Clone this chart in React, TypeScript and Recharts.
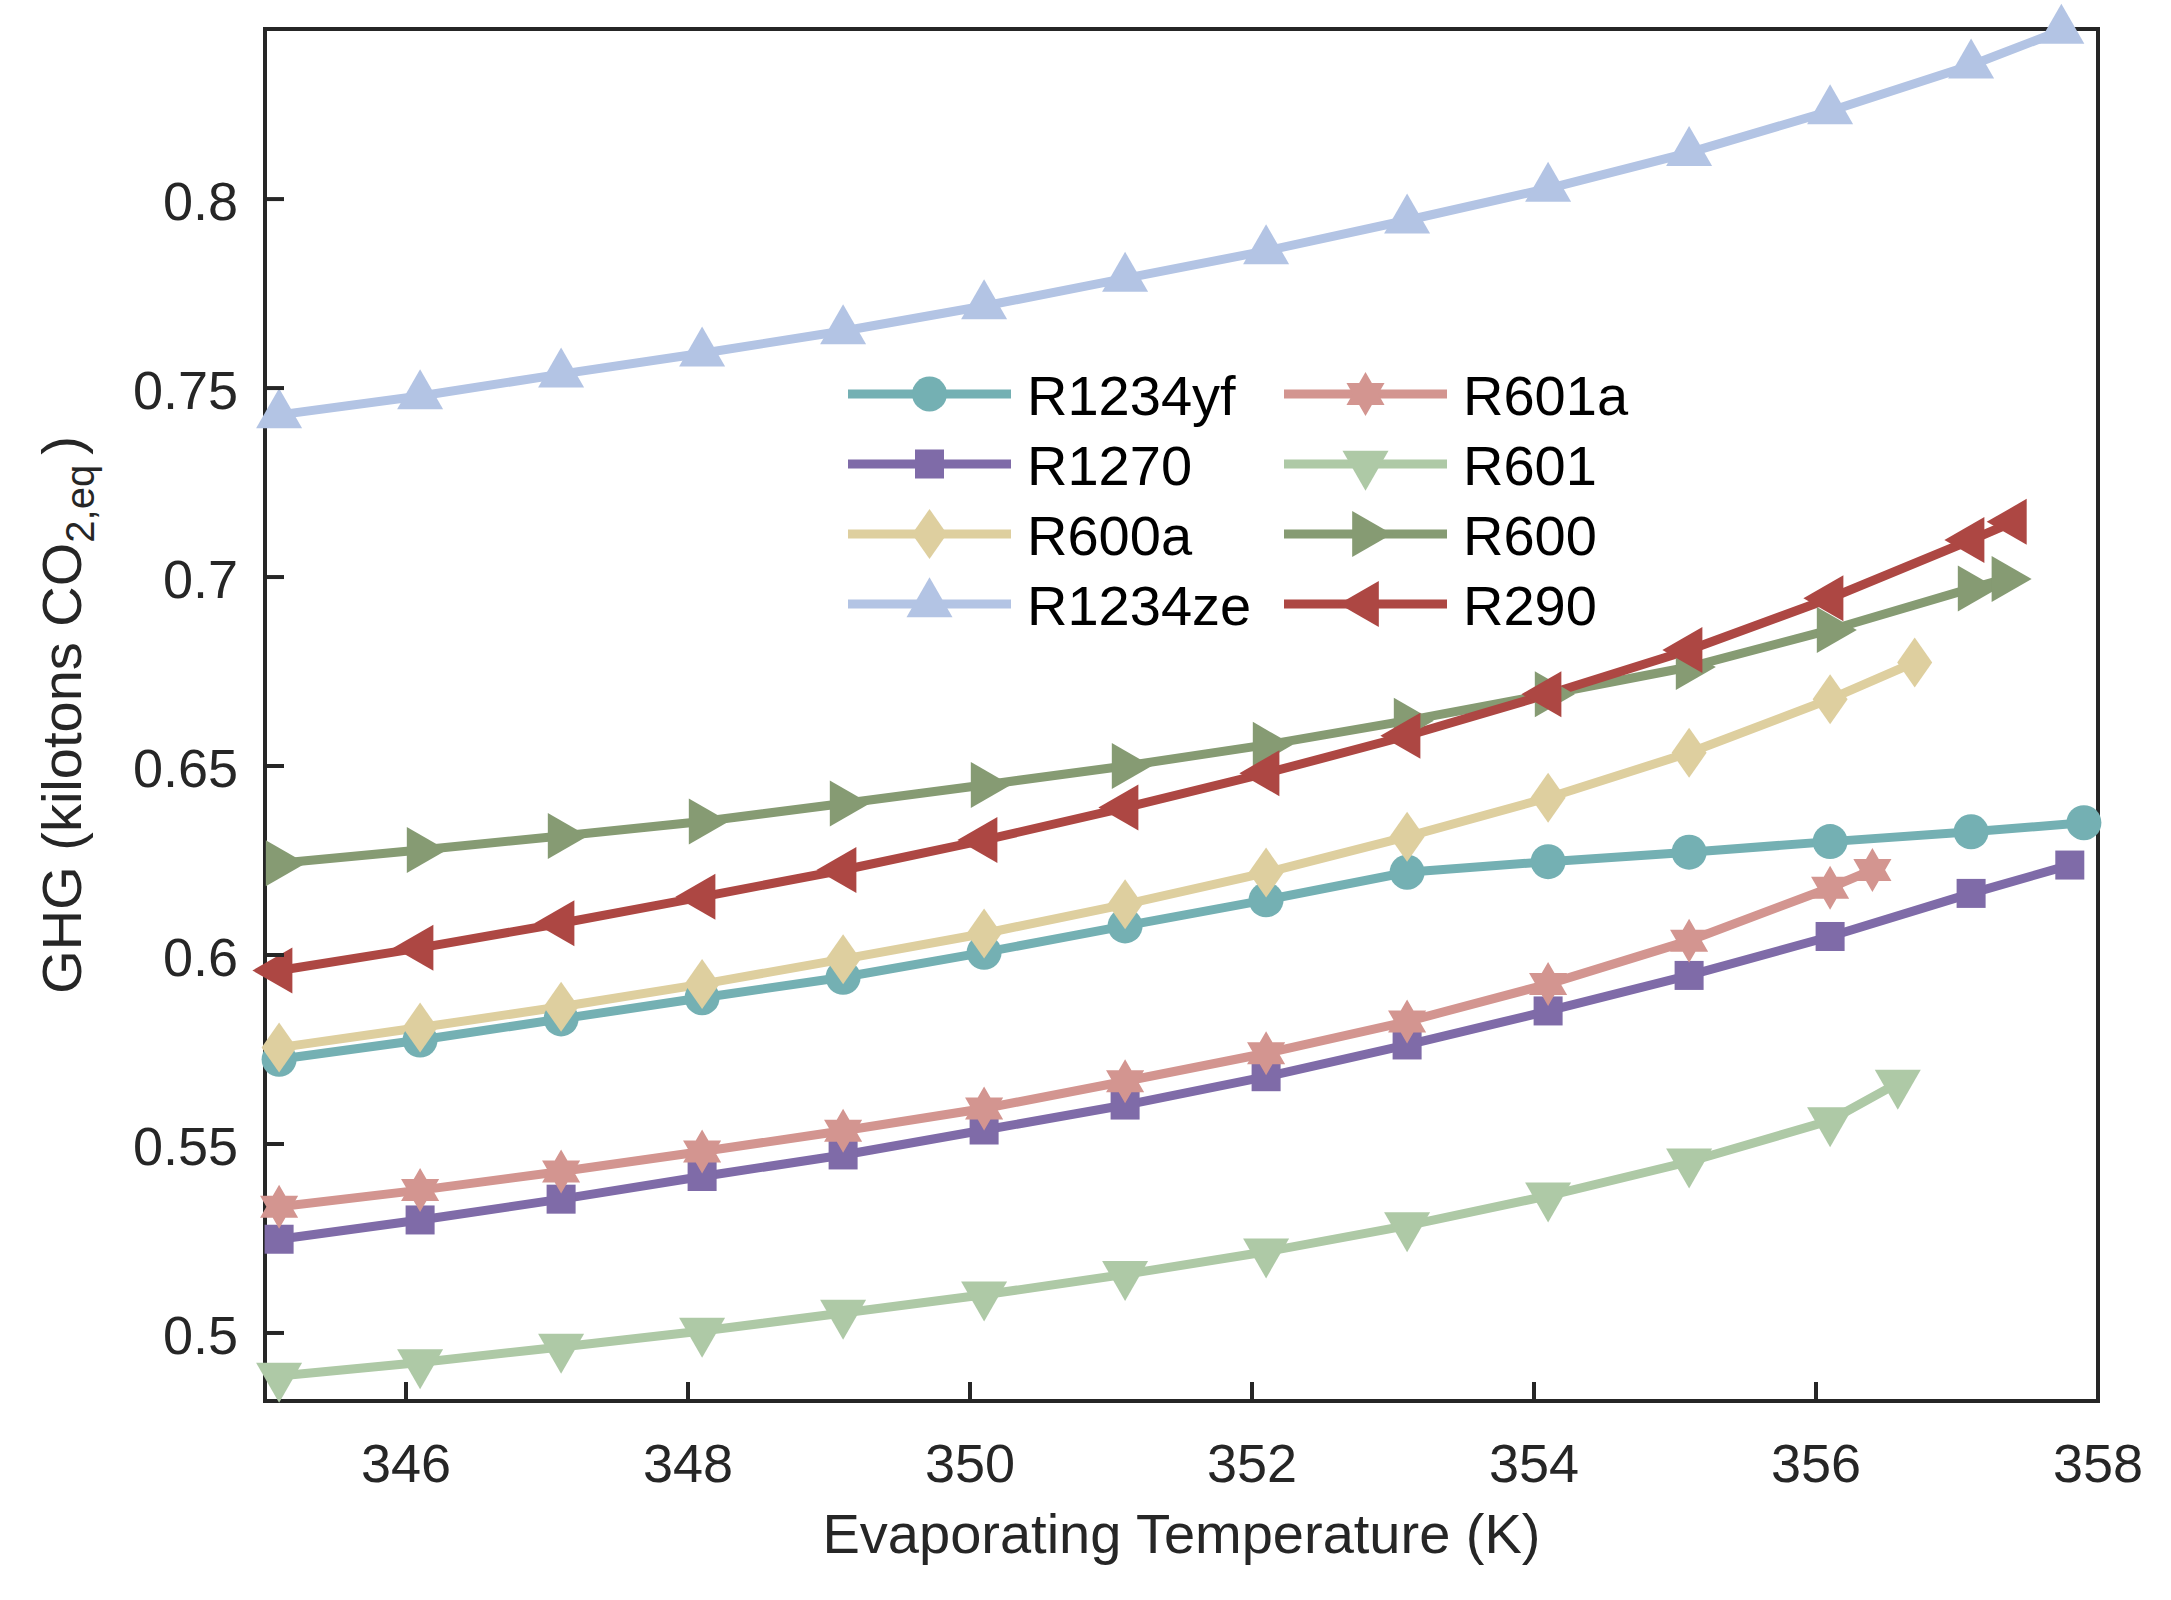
import { LineChart, Line, XAxis, YAxis, Legend } from 'recharts';

const FONT = '"Liberation Sans", Arial, Helvetica, sans-serif';
const AXIS = '#262626';

// evaporating temperatures (K)
const T13 = [345.1, 346.1, 347.1, 348.1, 349.1, 350.1, 351.1, 352.1, 353.1, 354.1, 355.1, 356.1, 357.1];
const T12 = [345.1, 346.1, 347.1, 348.1, 349.1, 350.1, 351.1, 352.1, 353.1, 354.1, 355.1, 356.1];

const r1234yfT = [...T13, 357.9];
const r1234yfV = [0.5724, 0.5775, 0.5831, 0.5887, 0.5941, 0.6007, 0.6077, 0.6146, 0.6219, 0.6247, 0.6272, 0.63, 0.6326, 0.635];

const r1270T = [...T13, 357.8];
const r1270V = [0.5248, 0.5299, 0.5354, 0.5414, 0.5471, 0.5537, 0.5603, 0.5678, 0.5762, 0.5852, 0.5946, 0.6049, 0.6163, 0.6238];

const r600aT = [...T12, 356.7];
const r600aV = [0.5755, 0.5808, 0.5863, 0.5923, 0.5989, 0.6057, 0.6134, 0.6218, 0.6313, 0.6416, 0.6535, 0.6677, 0.6774];

const r1234zeT = [...T13, 357.74];
const r1234zeV = [0.7429, 0.7479, 0.7537, 0.7592, 0.7651, 0.7717, 0.779, 0.7863, 0.7944, 0.8028, 0.8123, 0.8233, 0.8354, 0.8446];

const r601aT = [...T12, 356.4];
const r601aV = [0.5334, 0.5378, 0.5427, 0.548, 0.5535, 0.5594, 0.5666, 0.574, 0.5824, 0.5923, 0.6038, 0.6178, 0.6225];

const r601T = [...T12, 356.58];
const r601V = [0.4886, 0.4922, 0.4963, 0.5005, 0.5053, 0.5101, 0.5155, 0.5215, 0.5284, 0.5363, 0.5453, 0.5562, 0.5661];

const r600T = [...T13, 357.34];
const r600V = [0.6243, 0.6278, 0.6315, 0.6353, 0.6401, 0.645, 0.65, 0.6556, 0.662, 0.669, 0.6762, 0.686, 0.697, 0.6995];

const r290T = [...T13, 357.4];
const r290V = [0.5959, 0.6019, 0.6084, 0.6154, 0.6225, 0.6304, 0.639, 0.6481, 0.658, 0.669, 0.6807, 0.6944, 0.7098, 0.7146];

const X_TICKS = [346, 348, 350, 352, 354, 356, 358];
const Y_TICKS = [0.5, 0.55, 0.6, 0.65, 0.7, 0.75, 0.8];

const series = [
  { name: 'R1234yf', color: '#74b0b3', shape: 'circle', t: r1234yfT, v: r1234yfV },
  { name: 'R1270', color: '#7f6ba8', shape: 'square', t: r1270T, v: r1270V },
  { name: 'R600a', color: '#decf9f', shape: 'diamond', t: r600aT, v: r600aV },
  { name: 'R1234ze', color: '#b3c4e4', shape: 'up', t: r1234zeT, v: r1234zeV },
  { name: 'R601a', color: '#d39590', shape: 'hexagram', t: r601aT, v: r601aV },
  { name: 'R601', color: '#aec9a6', shape: 'down', t: r601T, v: r601V },
  { name: 'R600', color: '#869b73', shape: 'right', t: r600T, v: r600V },
  { name: 'R290', color: '#ad4743', shape: 'left', t: r290T, v: r290V },
];

const lines = series.map((s) => ({ ...s, points: s.t.map((t, i) => ({ t, v: s.v[i] })) }));

const LINE_W = 9;

function hexagram(cx: number, cy: number, R: number) {
  const r = R / Math.sqrt(3);
  const pts: string[] = [];
  for (let i = 0; i < 12; i++) {
    const a = -Math.PI / 2 + (i * Math.PI) / 6;
    const rad = i % 2 === 0 ? R : r;
    pts.push(`${cx + rad * Math.cos(a)},${cy + rad * Math.sin(a)}`);
  }
  return pts.join(' ');
}

function Marker({ shape, cx, cy, color }: { shape: string; cx: number; cy: number; color: string }) {
  switch (shape) {
    case 'circle':
      return <circle cx={cx} cy={cy} r={17.5} fill={color} />;
    case 'square':
      return <rect x={cx - 14.5} y={cy - 14.5} width={29} height={29} fill={color} />;
    case 'diamond':
      return <polygon points={`${cx},${cy - 25} ${cx + 17.5},${cy} ${cx},${cy + 25} ${cx - 17.5},${cy}`} fill={color} />;
    case 'up':
      return <polygon points={`${cx},${cy - 26.7} ${cx + 23},${cy + 13.3} ${cx - 23},${cy + 13.3}`} fill={color} />;
    case 'down':
      return <polygon points={`${cx - 23},${cy - 13.3} ${cx + 23},${cy - 13.3} ${cx},${cy + 26.7}`} fill={color} />;
    case 'right':
      return <polygon points={`${cx - 13.3},${cy - 23} ${cx + 26.7},${cy} ${cx - 13.3},${cy + 23}`} fill={color} />;
    case 'left':
      return <polygon points={`${cx + 13.3},${cy - 23} ${cx - 26.7},${cy} ${cx + 13.3},${cy + 23}`} fill={color} />;
    case 'hexagram':
      return <polygon points={hexagram(cx, cy, 22)} fill={color} />;
    default:
      return null;
  }
}

const fmt = (v: number) => String(Number(v.toFixed(2)));

const BottomTick = ({ x, y, payload }: any) => (
  <g>
    <line x1={x} x2={x} y1={y} y2={y - 19} stroke={AXIS} strokeWidth={4} />
    <text x={x} y={y + 81} textAnchor="middle" fontSize={54} fontFamily={FONT} fill={AXIS}>
      {payload.value}
    </text>
  </g>
);

const TopTick = ({ x, y }: any) => <line x1={x} x2={x} y1={y} y2={y + 19} stroke={AXIS} strokeWidth={4} />;

const LeftTick = ({ x, y, payload }: any) => (
  <g>
    <line x1={x} x2={x + 19} y1={y} y2={y} stroke={AXIS} strokeWidth={4} />
    <text x={x - 27} y={y + 21} textAnchor="end" fontSize={54} fontFamily={FONT} fill={AXIS}>
      {fmt(payload.value)}
    </text>
  </g>
);

const RightTick = ({ x, y }: any) => <line x1={x} x2={x - 19} y1={y} y2={y} stroke={AXIS} strokeWidth={4} />;

const XTitle = ({ viewBox }: any) => (
  <text
    x={viewBox.x + viewBox.width / 2}
    y={viewBox.y + 152}
    textAnchor="middle"
    fontSize={56}
    fontFamily={FONT}
    fill={AXIS}
  >
    Evaporating Temperature (K)
  </text>
);

const YTitle = ({ viewBox }: any) => {
  const x = viewBox.x + viewBox.width - 184;
  const y = viewBox.y + viewBox.height / 2;
  return (
    <text
      x={x}
      y={y}
      transform={`rotate(-90 ${x} ${y})`}
      textAnchor="middle"
      fontSize={56}
      fontFamily={FONT}
      fill={AXIS}
    >
      GHG (kilotons CO
      <tspan fontSize={40} dy={13}>2,eq</tspan>
      <tspan dy={-13} dx={10}>)</tspan>
    </text>
  );
};

// legend: two columns, four rows
const renderLegend = () => {
  const cols = [28, 464];
  const rows = [44, 114, 184, 254];
  return (
    <svg width={820} height={300} style={{ overflow: 'visible' }}>
      {series.map((s, i) => {
        const lx = cols[Math.floor(i / 4)];
        const ly = rows[i % 4];
        return (
          <g key={s.name}>
            <line x1={lx} x2={lx + 163} y1={ly} y2={ly} stroke={s.color} strokeWidth={LINE_W} />
            <Marker shape={s.shape} cx={lx + 81.5} cy={ly} color={s.color} />
            <text x={lx + 179} y={ly + 21} fontSize={56} fontFamily={FONT} fill="#000">
              {s.name}
            </text>
          </g>
        );
      })}
    </svg>
  );
};

const axisLine = { stroke: AXIS, strokeWidth: 4, strokeLinecap: 'square' as const };

export default function App() {
  return (
    <div style={{ position: 'absolute', left: 0, top: 0, width: 2171, height: 1600, background: '#fff' }}>
      <LineChart width={2171} height={1600} margin={{ top: 28, right: 72, bottom: 99, left: 105 }}>
        <XAxis
          xAxisId="b"
          type="number"
          dataKey="t"
          orientation="bottom"
          domain={[345, 358]}
          ticks={X_TICKS}
          interval={0}
          height={100}
          tickSize={0}
          tickMargin={0}
          tickLine={false}
          axisLine={axisLine}
          tick={BottomTick}
          label={{ content: XTitle }}
        />
        <XAxis
          xAxisId="t"
          type="number"
          dataKey="t"
          orientation="top"
          domain={[345, 358]}
          ticks={X_TICKS}
          interval={0}
          height={1}
          tickSize={0}
          tickMargin={0}
          tickLine={false}
          axisLine={axisLine}
          tick={TopTick}
        />
        <YAxis
          yAxisId="l"
          type="number"
          domain={[0.482, 0.845]}
          ticks={Y_TICKS}
          interval={0}
          width={160}
          tickSize={0}
          tickMargin={0}
          tickLine={false}
          axisLine={axisLine}
          tick={LeftTick}
          label={{ content: YTitle }}
        />
        <YAxis
          yAxisId="r"
          orientation="right"
          type="number"
          domain={[0.482, 0.845]}
          ticks={Y_TICKS}
          interval={0}
          width={1}
          tickSize={0}
          tickMargin={0}
          tickLine={false}
          axisLine={axisLine}
          tick={RightTick}
        />
        <Legend
          layout="horizontal"
          verticalAlign="middle"
          align="center"
          content={renderLegend}
          wrapperStyle={{ left: 820, top: 350, width: 820, height: 300 }}
        />
        {lines.map((s) => (
          <Line
            key={s.name}
            xAxisId="b"
            yAxisId="l"
            data={s.points}
            dataKey="v"
            name={s.name}
            type="linear"
            stroke={s.color}
            strokeWidth={LINE_W}
            isAnimationActive={false}
            activeDot={false}
            dot={(p: any) => <Marker key={`${s.name}-${p.index}`} shape={s.shape} cx={p.cx} cy={p.cy} color={s.color} />}
          />
        ))}
      </LineChart>
    </div>
  );
}
